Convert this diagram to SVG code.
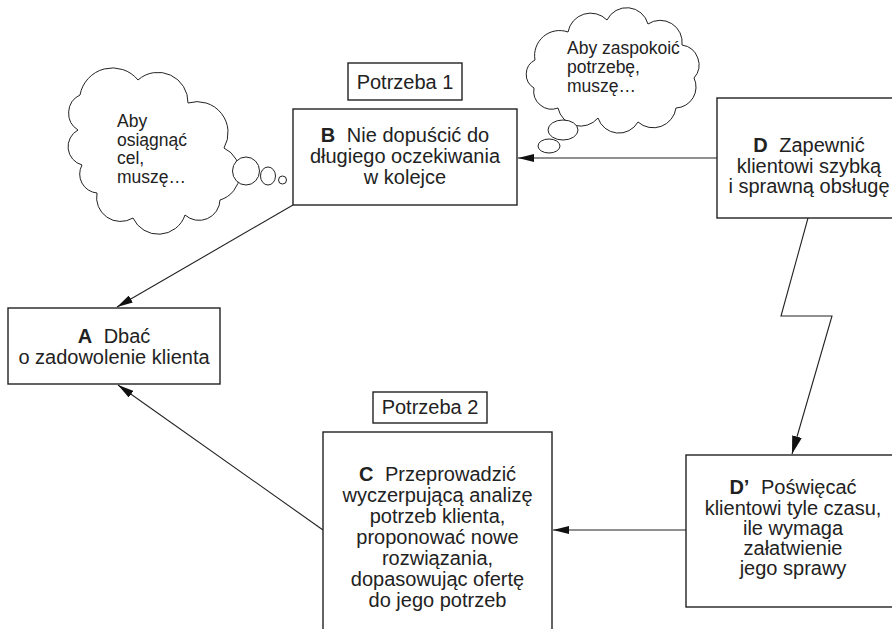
<svg xmlns="http://www.w3.org/2000/svg" width="892" height="629" viewBox="0 0 892 629">
<style>
.box{fill:#fff;stroke:#222;stroke-width:1.4}
.t{font-family:"Liberation Sans",Arial,sans-serif;font-size:20px;fill:#222;text-anchor:middle}
.ct{font-family:"Liberation Sans",Arial,sans-serif;font-size:17.5px;fill:#222}
.b{font-weight:bold}
.ln{fill:none;stroke:#222;stroke-width:1.1}
.cloud{fill:#fff;stroke:#222;stroke-width:1}
</style>
<defs>
<marker id="ah" markerUnits="userSpaceOnUse" markerWidth="17" markerHeight="8" refX="16" refY="4" orient="auto">
<path d="M0,0 L16,4 L0,8 z" fill="#111"/>
</marker>
<marker id="ah2" markerUnits="userSpaceOnUse" markerWidth="19" markerHeight="10" refX="18" refY="5" orient="auto">
<path d="M0,0 L18,5 L0,10 z" fill="#111"/>
</marker>
</defs>
<rect width="892" height="629" fill="#fff"/>

<g id="connectors">
<line class="ln" x1="717" y1="158" x2="518" y2="158" marker-end="url(#ah)"/>
<line class="ln" x1="293" y1="205" x2="117" y2="307" marker-end="url(#ah)"/>
<line class="ln" x1="323" y1="530" x2="118" y2="385" marker-end="url(#ah)"/>
<line class="ln" x1="686" y1="530" x2="553" y2="530" marker-end="url(#ah)"/>
<polyline class="ln" points="808,218 781,316 832,316 792,454" marker-end="url(#ah2)"/>
</g>

<g id="cloud1">
<path class="cloud" d="M80,95 A33,33 0 0 1 138,80 A30,30 0 0 1 188,103 A31,31 0 0 1 224,148 A28,28 0 0 1 220,200 A21,21 0 0 1 185,215 A28,28 0 0 1 133,218 A24,24 0 0 1 97,193 A19,19 0 0 1 82,165 A19,19 0 0 1 78,130 A20,20 0 0 1 80,95 Z"/>
<ellipse class="cloud" cx="246" cy="171" rx="13.5" ry="14"/>
<ellipse class="cloud" cx="268" cy="176" rx="7.5" ry="9"/>
<circle class="cloud" cx="282.5" cy="180" r="4"/>
<text class="ct" x="117" y="127">Aby</text>
<text class="ct" x="117" y="145.5">osiągnąć</text>
<text class="ct" x="117" y="164">cel,</text>
<text class="ct" x="117" y="182.5">muszę…</text>
</g>

<g id="cloud2">
<path class="cloud" d="M535,60 A25,25 0 0 1 568,32 A23,23 0 0 1 607,20 A22,22 0 0 1 648,24 A22,22 0 0 1 682,45 A20,20 0 0 1 694,78 A21,21 0 0 1 676,108 A23,23 0 0 1 638,122 A22,22 0 0 1 598,118 A23,23 0 0 1 558,108 A18,18 0 0 1 534,88 A16,16 0 0 1 535,60 Z"/>
<ellipse class="cloud" cx="563" cy="130" rx="15" ry="10"/>
<ellipse class="cloud" cx="549" cy="146" rx="11" ry="7"/>
<text class="ct" x="567" y="54">Aby zaspokoić</text>
<text class="ct" x="567" y="73">potrzebę,</text>
<text class="ct" x="567" y="91.5">muszę…</text>
</g>

<g id="potrzeba1">
<rect class="box" x="348" y="63" width="114" height="37"/>
<text class="t" x="405" y="89">Potrzeba 1</text>
</g>

<g id="nodeB">
<rect class="box" x="293" y="109" width="224" height="96"/>
<text class="t" x="405" y="142"><tspan class="b">B</tspan><tspan dx="6"> Nie dopuścić do</tspan></text>
<text class="t" x="405" y="163">długiego oczekiwania</text>
<text class="t" x="405" y="184">w kolejce</text>
</g>

<g id="nodeD">
<rect class="box" x="717" y="98" width="190" height="120"/>
<text class="t" x="809" y="152"><tspan class="b">D</tspan><tspan dx="6"> Zapewnić</tspan></text>
<text class="t" x="809" y="173">klientowi szybką</text>
<text class="t" x="809" y="193">i sprawną obsługę</text>
</g>

<g id="nodeA">
<rect class="box" x="8" y="308" width="212" height="76"/>
<text class="t" x="114" y="343"><tspan class="b">A</tspan><tspan dx="6"> Dbać</tspan></text>
<text class="t" x="114" y="364">o zadowolenie klienta</text>
</g>

<g id="potrzeba2">
<rect class="box" x="373" y="392" width="114" height="31"/>
<text class="t" x="430" y="414">Potrzeba 2</text>
</g>

<g id="nodeC">
<rect class="box" x="323" y="432" width="229" height="220"/>
<text class="t" x="437.5" y="481"><tspan class="b">C</tspan><tspan dx="6"> Przeprowadzić</tspan></text>
<text class="t" x="437.5" y="502">wyczerpującą analizę</text>
<text class="t" x="437.5" y="523">potrzeb klienta,</text>
<text class="t" x="437.5" y="544">proponować nowe</text>
<text class="t" x="437.5" y="565">rozwiązania,</text>
<text class="t" x="437.5" y="586">dopasowując ofertę</text>
<text class="t" x="437.5" y="607">do jego potrzeb</text>
</g>

<g id="nodeDprime">
<rect class="box" x="686" y="455" width="220" height="152"/>
<text class="t" x="793" y="494"><tspan class="b">D’</tspan><tspan dx="6"> Poświęcać</tspan></text>
<text class="t" x="793" y="514.5">klientowi tyle czasu,</text>
<text class="t" x="793" y="535">ile wymaga</text>
<text class="t" x="793" y="555">załatwienie</text>
<text class="t" x="793" y="575">jego sprawy</text>
</g>
</svg>
